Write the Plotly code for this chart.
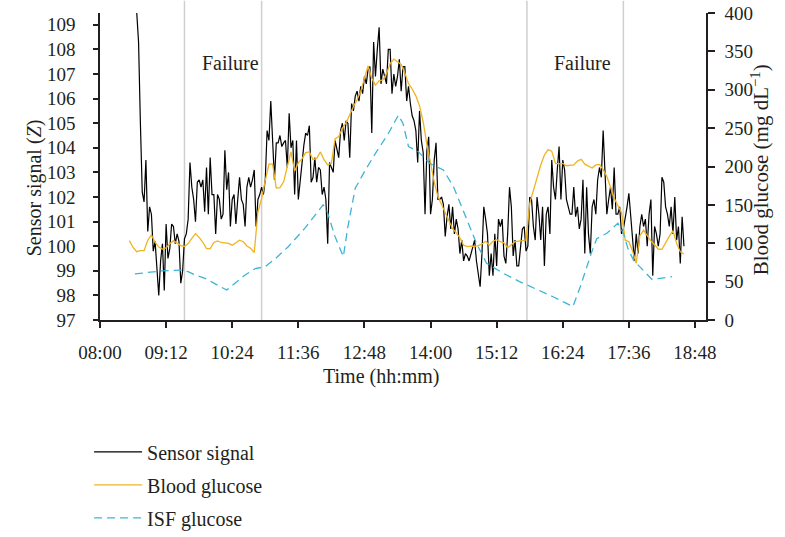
import pandas as pd
import plotly.graph_objects as go

DAY = "2020-01-01"

# Impedance sensor signal (Z), sampled every 2 minutes
sensor_start = "08:40"
sensor_step_min = 2
sensor_signal = [
    109.5, 108.3, 105.0, 102.2, 101.8, 103.5, 100.6, 101.6, 101.3, 99.8,
    100.2, 99.2, 98.0, 99.4, 100.1, 98.2, 100.9, 99.5, 99.9, 100.9,
    100.8, 100.1, 100.5, 100.2, 98.5, 99.0, 100.3, 100.5, 101.1, 103.4,
    102.4, 101.9, 101.0, 102.6, 102.7, 102.4, 102.7, 101.4, 103.2, 101.3,
    103.6, 102.1, 102.1, 100.5, 102.1, 101.9, 101.1, 101.3, 103.9, 102.3,
    103.0, 100.8, 101.9, 102.1, 100.9, 101.9, 102.8, 101.9, 101.7, 100.8,
    102.4, 102.8, 102.4, 102.7, 103.1, 100.8, 101.9, 102.1, 102.4, 102.1,
    102.7, 104.7, 104.3, 105.9, 104.3, 102.7, 104.2, 104.2, 104.5, 104.05,
    104.2, 104.3, 103.2, 105.4, 104.0, 104.3, 102.1, 104.3, 101.9, 102.7,
    103.2, 104.1, 104.6, 104.5, 104.9, 102.6, 102.8, 103.6, 102.6, 103.2,
    103.1, 102.1, 102.4, 101.9, 100.1, 103.4, 103.2, 103.0, 104.3, 104.0,
    103.6, 104.7, 105.0, 104.3, 105.1, 105.0, 103.6, 105.8, 105.5, 106.1,
    106.3, 105.9, 106.5, 106.2, 106.9, 106.6, 107.2, 107.3, 104.6, 108.3,
    106.9, 108.0, 108.9, 106.6, 107.2, 106.9, 106.6, 108.0, 108.0, 106.2,
    107.0, 106.5, 106.9, 107.6, 106.3, 107.3, 107.3, 105.9, 106.5, 105.8,
    105.3, 105.1, 104.7, 103.4, 105.5, 104.3, 103.8, 101.3, 103.9, 104.45,
    101.3, 101.9, 103.5, 104.2, 101.9, 101.9, 102.0, 101.7, 100.4, 101.2,
    101.7, 100.7, 101.6, 100.5, 101.1, 100.7, 99.7, 100.25, 99.4, 99.7,
    99.6, 99.4, 99.7, 100.0, 100.25, 99.4, 98.9, 98.35, 99.7, 101.6,
    101.1, 100.5, 98.8, 99.7, 98.8, 100.5, 99.2, 101.1, 100.8, 101.1,
    99.6, 99.3, 100.5, 102.4, 101.6, 99.6, 100.25, 99.2, 99.2, 100.1,
    100.7, 100.8, 99.8, 100.0, 102.0, 101.9, 100.8, 100.25, 102.0, 101.3,
    100.25, 101.6, 99.2, 101.3, 101.6, 100.5, 103.5, 102.4, 101.9, 103.1,
    104.05, 101.9, 103.5, 103.1, 101.9, 101.6, 101.3, 101.3, 102.4, 101.2,
    101.6, 100.7, 101.1, 102.7, 99.7, 102.4, 100.5, 99.7, 101.6, 101.9,
    101.3, 102.7, 103.2, 102.8, 104.7, 103.0, 101.3, 101.9, 102.4, 101.5,
    103.2, 101.3, 101.3, 101.6, 100.5, 100.7, 101.1, 101.6, 102.15, 101.1,
    100.25, 99.4, 100.5, 99.7, 100.8, 101.3, 100.8, 101.1, 100.0, 101.3,
    101.9, 98.8, 100.8, 100.5, 100.0, 100.5, 102.8, 102.6, 101.6, 101.3,
    100.8, 101.6, 100.5, 102.0, 100.25, 100.8, 99.3, 101.2, 100.0,
]

# Reference blood glucose (mg/dL), every 4 minutes
glucose_start = "08:32"
glucose_step_min = 4
blood_glucose = [
    103.4, 94.5, 89, 90.3, 90.3, 104, 110.7, 101.3, 95, 92.5,
    94, 99.5, 103.4, 100.5, 97, 95.8, 99.5, 106.4, 112.5, 107.7,
    101.3, 93, 93, 101, 103, 101, 100, 99.8, 97.5, 101.3,
    104, 102, 96.5, 93.5, 88, 141, 158, 182, 203, 203,
    172, 172.5, 180, 200, 219, 194, 205, 210, 218, 219,
    209, 210.6, 219, 209, 202, 204, 236, 239, 250, 257,
    268, 278, 287, 297.8, 315, 331, 315, 306, 311.5, 312.7,
    321, 334, 340, 337, 333, 322, 308, 301, 292, 279,
    258, 229, 202, 180, 161, 150, 140, 129, 119, 113.5,
    107, 97.5, 95.5, 96.2, 96, 96.8, 99, 102.5, 97.5, 102.5,
    105, 102, 100.5, 94, 98, 102, 102.8, 103.4, 104.2, 152,
    169.4, 184, 202, 215, 222, 220, 204, 203.5, 204, 201,
    201.5, 202, 207, 209.5, 203, 200, 198, 202, 202.8, 196,
    187, 173, 159, 149, 140, 104, 102, 90, 74, 110,
    117, 110, 103, 98, 92.5, 92, 101, 109, 116.5, 100,
    89, 86,
]

# Interstitial fluid glucose estimate (mg/dL)
isf_times = [
    "08:38", "08:49", "09:07", "09:29", "09:36", "09:44", "09:55", "10:04",
    "10:18", "10:27", "10:38", "10:49", "11:00", "11:11", "11:25", "11:43",
    "12:03", "12:07", "12:16", "12:25", "12:30", "12:38", "12:49", "13:00",
    "13:14", "13:25", "13:30", "13:36", "13:47", "13:59", "14:14", "14:25",
    "14:40", "14:50", "15:01", "15:19", "15:37", "15:56", "16:14", "16:35",
    "16:43", "16:55", "17:01", "17:12", "17:24", "17:30", "17:35", "17:41",
    "17:48", "18:01", "18:10", "18:23",
]
isf_glucose = [
    60, 61.7, 64, 65, 63, 58.6, 54, 48,
    39, 48, 58.6, 67, 69.5, 80, 95.5, 119.4,
    150, 143, 108.6, 82.5, 121.6, 171.6, 195.4, 217,
    243, 267, 256, 226, 219, 204, 195.4, 173.7,
    130, 100, 74, 61, 50, 40, 30, 17.4,
    43, 87, 106, 113, 126, 113, 93, 78,
    69.5, 53, 54.3, 56.5,
]

# Sensor failure intervals and their labels
failure_bounds = ["09:32", "10:56", "15:45", "17:30"]
failure_label_times = ["10:22", "16:46"]
failure_label = "Failure"

time_ticks = ["08:00", "09:12", "10:24", "11:36", "12:48",
              "14:00", "15:12", "16:24", "17:36", "18:48"]
time_range = ["08:00", "19:00"]
sensor_ticks = list(range(97, 110))
glucose_ticks = list(range(0, 401, 50))


def stamp(hhmm):
    return f"{DAY} {hhmm}"


sensor_t = pd.date_range(stamp(sensor_start), periods=len(sensor_signal),
                         freq=f"{sensor_step_min}min")
glucose_t = pd.date_range(stamp(glucose_start), periods=len(blood_glucose),
                          freq=f"{glucose_step_min}min")
isf_t = [stamp(t) for t in isf_times]

FONT = "Liberation Serif"
INK = "#231F20"

fig = go.Figure()
fig.add_trace(go.Scatter(
    x=sensor_t, y=sensor_signal, name="Sensor signal", mode="lines",
    line=dict(color="#000000", width=1.2), yaxis="y", legendgroup="s"))
fig.add_trace(go.Scatter(
    x=glucose_t, y=blood_glucose, name="Blood glucose", mode="lines",
    line=dict(color="#F0B323", width=1.3), yaxis="y2", legendgroup="b"))
fig.add_trace(go.Scatter(
    x=isf_t, y=isf_glucose, name="ISF glucose", mode="lines",
    line=dict(color="#3DB5D5", width=1.3, dash="8px,5px"), yaxis="y2",
    legendgroup="i"))

shapes = [
    dict(type="line", xref="x", yref="paper", x0=stamp(t), x1=stamp(t),
         y0=0, y1=1.04, line=dict(color="#CFCFCF", width=1.5), layer="below")
    for t in failure_bounds
]

annotations = [
    dict(x=stamp(t), y=0.879, xref="x", yref="paper", text=failure_label,
         showarrow=False, font=dict(size=20, family=FONT, color=INK))
    for t in failure_label_times
]
annotations += [
    dict(x=-0.129, y=0.43, xref="paper", yref="paper",
         text="Sensor signal (<i>Z</i>)", textangle=-90, showarrow=False,
         font=dict(size=20, family=FONT, color=INK)),
    dict(x=1.1155, y=0.489, xref="paper", yref="paper",
         text="Blood glucose (mg dL<sup>\u22121</sup>)", textangle=-90,
         showarrow=False, font=dict(size=21, family=FONT, color=INK)),
    dict(x=0.465, y=-0.228, xref="paper", yref="paper",
         text="Time (hh:mm)", showarrow=False,
         font=dict(size=20, family=FONT, color=INK)),
]

axis_common = dict(
    showline=True, linecolor=INK, linewidth=1.5, ticks="outside",
    tickwidth=1.5, tickcolor=INK, showgrid=False, zeroline=False,
    tickfont=dict(size=19, family=FONT, color=INK),
)

fig.update_layout(
    width=785, height=537,
    margin=dict(l=100, r=79, t=13, b=217, autoexpand=False),
    paper_bgcolor="white", plot_bgcolor="white",
    font=dict(family=FONT, color=INK),
    xaxis=dict(type="date", range=[stamp(time_range[0]), stamp(time_range[1])],
               tickvals=[stamp(t) for t in time_ticks], ticktext=time_ticks,
               ticklen=6, ticklabelstandoff=8, **axis_common),
    yaxis=dict(range=[97, 109.48], tickvals=sensor_ticks, ticklen=5,
               ticklabelstandoff=14, **axis_common),
    yaxis2=dict(range=[0, 400], tickvals=glucose_ticks, overlaying="y",
                side="right", ticklen=7, ticklabelstandoff=6, **axis_common),
    shapes=shapes,
    annotations=annotations,
    showlegend=True,
    legend=dict(x=-0.018, y=0.195, xanchor="left", yanchor="top",
                yref="container", itemwidth=48,
                traceorder="grouped", tracegroupgap=4,
                font=dict(size=20, family=FONT, color=INK),
                bgcolor="rgba(0,0,0,0)"),
)

fig.write_html("out.html")
